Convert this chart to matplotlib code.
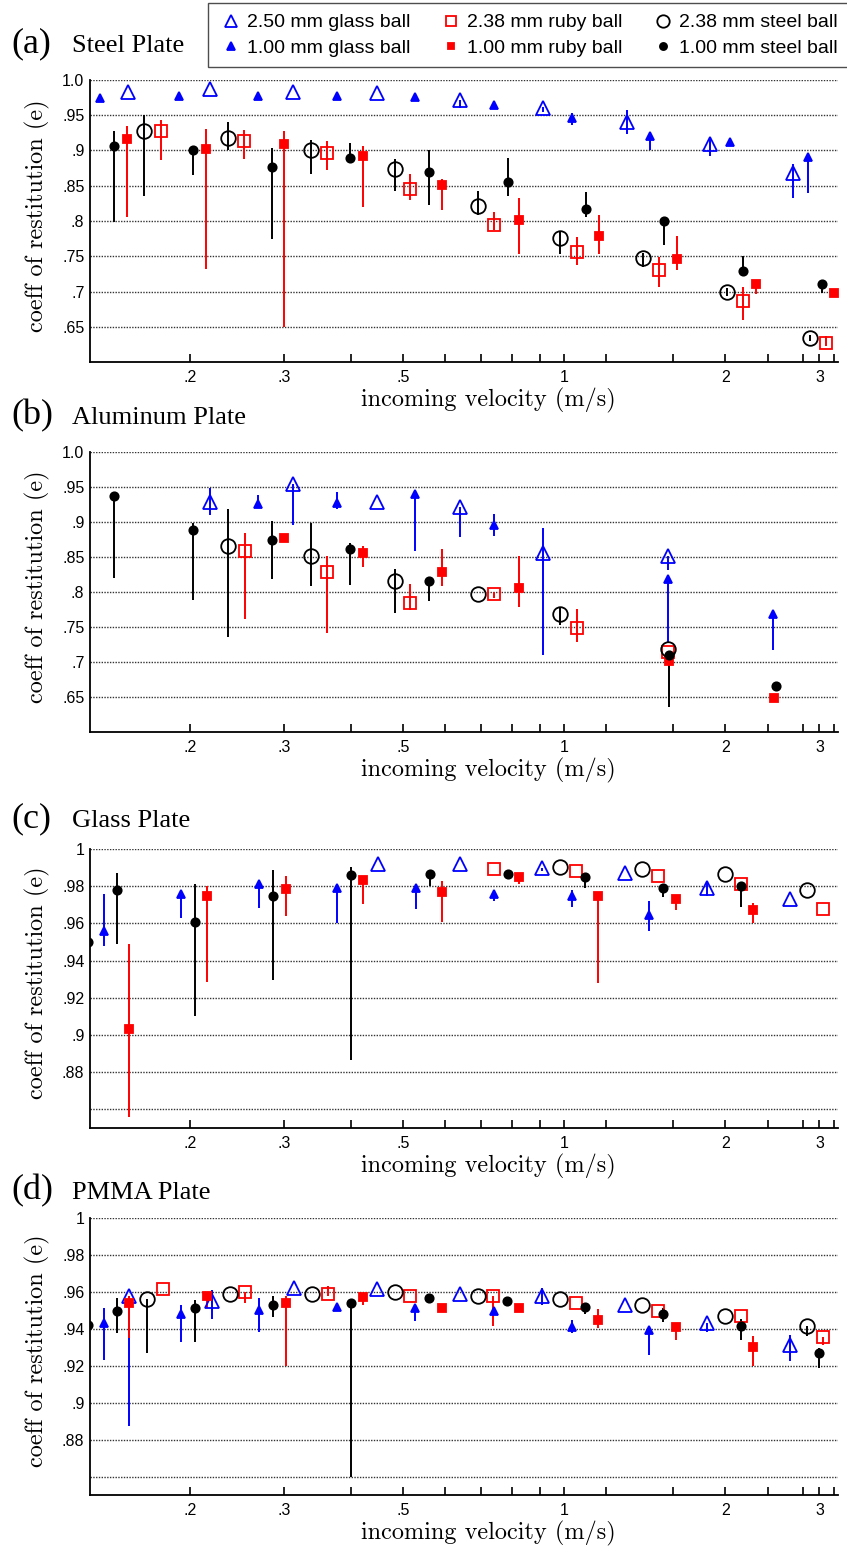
import matplotlib
matplotlib.use("Agg")
import matplotlib.pyplot as plt
from matplotlib.lines import Line2D
from matplotlib.ticker import FixedLocator, FixedFormatter, NullLocator

# each point: (incoming velocity m/s, e, lower end of bar, upper end of bar)

# (a) steel plate
steel_glass250 = [(0.153, 0.983, 0.983, 0.983), (0.218, 0.987, 0.987, 0.987),
                  (0.312, 0.983, 0.983, 0.983), (0.447, 0.981, 0.981, 0.981),
                  (0.64, 0.971, 0.960, 0.971), (0.915, 0.960, 0.955, 0.962),
                  (1.31, 0.941, 0.924, 0.957), (1.87, 0.909, 0.892, 0.916),
                  (2.68, 0.868, 0.832, 0.881)]
steel_glass100 = [(0.136, 0.975, 0.970, 0.975), (0.191, 0.977, 0.977, 0.977),
                  (0.268, 0.977, 0.977, 0.977), (0.376, 0.978, 0.978, 0.978),
                  (0.527, 0.976, 0.976, 0.976), (0.74, 0.964, 0.962, 0.966),
                  (1.036, 0.946, 0.936, 0.953), (1.45, 0.921, 0.900, 0.925),
                  (2.04, 0.912, 0.912, 0.912), (2.855, 0.891, 0.840, 0.891)]
steel_ruby238 = [(0.1765, 0.927, 0.887, 0.943), (0.252, 0.913, 0.888, 0.929),
                 (0.36, 0.897, 0.873, 0.913), (0.515, 0.846, 0.830, 0.866),
                 (0.738, 0.795, 0.787, 0.813), (1.056, 0.756, 0.737, 0.777),
                 (1.507, 0.731, 0.707, 0.749), (2.158, 0.687, 0.660, 0.706),
                 (3.09, 0.627, 0.622, 0.637)]
steel_ruby100 = [(0.1525, 0.917, 0.805, 0.935), (0.214, 0.902, 0.732, 0.930),
                 (0.300, 0.909, 0.649, 0.928), (0.4215, 0.892, 0.820, 0.906),
                 (0.5905, 0.851, 0.816, 0.859), (0.825, 0.801, 0.753, 0.832),
                 (1.163, 0.779, 0.753, 0.809), (1.626, 0.746, 0.731, 0.779),
                 (2.285, 0.711, 0.697, 0.714), (3.2, 0.698, 0.695, 0.700)]
steel_steel238 = [(0.164, 0.927, 0.836, 0.951), (0.235, 0.918, 0.900, 0.940),
                  (0.336, 0.900, 0.866, 0.915), (0.482, 0.874, 0.842, 0.888),
                  (0.689, 0.821, 0.809, 0.843), (0.983, 0.776, 0.753, 0.784),
                  (1.407, 0.747, 0.735, 0.755), (2.014, 0.700, 0.693, 0.705),
                  (2.884, 0.634, 0.630, 0.638)]
steel_steel100 = [(0.144, 0.906, 0.799, 0.928), (0.2025, 0.901, 0.865, 0.901),
                  (0.284, 0.877, 0.774, 0.903), (0.3975, 0.889, 0.889, 0.910),
                  (0.559, 0.869, 0.822, 0.900), (0.784, 0.856, 0.835, 0.889),
                  (1.098, 0.817, 0.806, 0.841), (1.54, 0.800, 0.766, 0.800),
                  (2.158, 0.729, 0.729, 0.750), (3.03, 0.710, 0.698, 0.710)]

# (b) aluminum plate
alu_glass250 = [(0.218, 0.929, 0.910, 0.948), (0.312, 0.954, 0.896, 0.954),
                (0.447, 0.929, 0.929, 0.929), (0.64, 0.921, 0.878, 0.921),
                (0.915, 0.856, 0.710, 0.891), (1.566, 0.852, 0.832, 0.852)]
alu_glass100 = [(0.268, 0.925, 0.925, 0.939), (0.376, 0.927, 0.918, 0.943),
                (0.527, 0.940, 0.858, 0.940), (0.74, 0.896, 0.880, 0.912),
                (1.566, 0.818, 0.728, 0.818), (2.46, 0.768, 0.717, 0.768)]
alu_ruby238 = [(0.253, 0.858, 0.761, 0.884), (0.36, 0.828, 0.742, 0.851),
               (0.515, 0.784, 0.774, 0.812), (0.738, 0.797, 0.792, 0.800),
               (1.056, 0.749, 0.728, 0.775), (1.566, 0.714, 0.714, 0.714)]
alu_ruby100 = [(0.300, 0.877, 0.877, 0.877), (0.4215, 0.856, 0.836, 0.866),
               (0.5905, 0.828, 0.808, 0.862), (0.825, 0.805, 0.7785, 0.851),
               (1.57, 0.702, 0.702, 0.702), (2.47, 0.649, 0.649, 0.649)]
alu_steel238 = [(0.235, 0.865, 0.735, 0.918), (0.336, 0.851, 0.808, 0.899),
                (0.482, 0.815, 0.770, 0.833), (0.689, 0.797, 0.797, 0.797),
                (0.983, 0.769, 0.7535, 0.779), (1.566, 0.719, 0.719, 0.719)]
alu_steel100 = [(0.144, 0.937, 0.820, 0.937), (0.2025, 0.888, 0.789, 0.899),
                (0.284, 0.874, 0.819, 0.901), (0.3975, 0.862, 0.810, 0.870),
                (0.559, 0.815, 0.787, 0.815), (1.57, 0.710, 0.635, 0.710),
                (2.49, 0.665, 0.665, 0.665)]

# (c) glass plate
glass_glass250 = [(0.4485, 0.992, 0.992, 0.992), (0.64, 0.992, 0.992, 0.992),
                  (0.911, 0.990, 0.988, 0.990), (1.30, 0.987, 0.987, 0.987),
                  (1.853, 0.979, 0.975, 0.983), (2.645, 0.973, 0.973, 0.973)]
glass_glass100 = [(0.138, 0.956, 0.948, 0.976), (0.192, 0.976, 0.963, 0.976),
                  (0.2695, 0.981, 0.9685, 0.981), (0.377, 0.979, 0.960, 0.979),
                  (0.528, 0.979, 0.968, 0.979), (0.738, 0.976, 0.972, 0.978),
                  (1.034, 0.975, 0.969, 0.978), (1.444, 0.9645, 0.956, 0.972)]
glass_ruby238 = [(0.738, 0.989, 0.989, 0.989), (1.052, 0.988, 0.988, 0.988),
                 (1.496, 0.9856, 0.9856, 0.9856), (2.14, 0.981, 0.981, 0.981),
                 (3.05, 0.9675, 0.9675, 0.9675)]
glass_ruby100 = [(0.154, 0.903, 0.856, 0.949), (0.2155, 0.975, 0.9285, 0.980),
                 (0.3018, 0.9785, 0.964, 0.9855), (0.4215, 0.9835, 0.9706, 0.9835),
                 (0.5905, 0.977, 0.961, 0.983), (0.825, 0.985, 0.981, 0.985),
                 (1.156, 0.975, 0.928, 0.977), (1.617, 0.973, 0.967, 0.975),
                 (2.259, 0.967, 0.960, 0.971)]
glass_steel238 = [(0.983, 0.9905, 0.9905, 0.9905), (1.401, 0.989, 0.989, 0.989),
                  (2.0, 0.9865, 0.9865, 0.9865), (2.85, 0.978, 0.978, 0.978)]
glass_steel100 = [(0.129, 0.950, 0.950, 0.950), (0.146, 0.978, 0.9487, 0.9873),
                  (0.2043, 0.961, 0.910, 0.981), (0.2854, 0.975, 0.9295, 0.9887),
                  (0.399, 0.986, 0.8868, 0.9905), (0.5616, 0.9865, 0.980, 0.9865),
                  (0.784, 0.9865, 0.9865, 0.9865), (1.095, 0.985, 0.979, 0.985),
                  (1.533, 0.979, 0.974, 0.979), (2.14, 0.980, 0.969, 0.980)]

# (d) PMMA plate
pmma_glass250 = [(0.154, 0.958, 0.8876, 0.958), (0.2197, 0.955, 0.9452, 0.961),
                 (0.313, 0.962, 0.962, 0.962), (0.4479, 0.9615, 0.9615, 0.9615),
                 (0.64, 0.959, 0.959, 0.959), (0.911, 0.958, 0.953, 0.962),
                 (1.30, 0.953, 0.953, 0.953), (1.853, 0.943, 0.938, 0.943),
                 (2.645, 0.931, 0.9227, 0.9368)]
pmma_glass100 = [(0.138, 0.943, 0.9229, 0.9512), (0.192, 0.948, 0.9331, 0.953),
                 (0.2695, 0.950, 0.938, 0.9566), (0.377, 0.952, 0.952, 0.952),
                 (0.527, 0.9515, 0.944, 0.9515), (0.738, 0.9494, 0.9494, 0.9494),
                 (1.034, 0.9409, 0.9375, 0.945), (1.444, 0.9395, 0.926, 0.9395)]
pmma_ruby238 = [(0.178, 0.9615, 0.9615, 0.9615), (0.2533, 0.960, 0.954, 0.960),
                (0.3616, 0.959, 0.9575, 0.963), (0.515, 0.958, 0.958, 0.958),
                (0.736, 0.958, 0.9416, 0.958), (1.052, 0.954, 0.954, 0.954),
                (1.496, 0.9494, 0.9494, 0.9494), (2.14, 0.9467, 0.9467, 0.9467),
                (3.05, 0.9355, 0.931, 0.9355)]
pmma_ruby100 = [(0.154, 0.954, 0.935, 0.958), (0.2155, 0.958, 0.951, 0.960),
                (0.3018, 0.954, 0.920, 0.958), (0.4215, 0.957, 0.953, 0.957),
                (0.5905, 0.951, 0.951, 0.951), (0.825, 0.9515, 0.9515, 0.9515),
                (1.156, 0.945, 0.9407, 0.9506), (1.617, 0.941, 0.934, 0.943),
                (2.259, 0.930, 0.9197, 0.936)]
pmma_steel238 = [(0.166, 0.956, 0.927, 0.956), (0.237, 0.959, 0.959, 0.959),
                 (0.3376, 0.959, 0.959, 0.959), (0.482, 0.960, 0.960, 0.960),
                 (0.689, 0.958, 0.958, 0.958), (0.983, 0.956, 0.956, 0.956),
                 (1.401, 0.953, 0.953, 0.953), (2.0, 0.947, 0.947, 0.947),
                 (2.85, 0.9413, 0.936, 0.9413)]
pmma_steel100 = [(0.129, 0.942, 0.942, 0.942), (0.146, 0.9496, 0.9377, 0.9566),
                 (0.2043, 0.9515, 0.9331, 0.9556), (0.2854, 0.953, 0.9465, 0.9577),
                 (0.399, 0.954, 0.860, 0.954), (0.559, 0.9566, 0.954, 0.9566),
                 (0.781, 0.9548, 0.9548, 0.9548), (1.095, 0.952, 0.948, 0.954),
                 (1.533, 0.948, 0.9435, 0.951), (2.14, 0.9416, 0.9337, 0.9452),
                 (2.996, 0.927, 0.9186, 0.9296)]

ball_labels = ["2.50 mm glass ball", "1.00 mm glass ball",
               "2.38 mm ruby ball", "1.00 mm ruby ball",
               "2.38 mm steel ball", "1.00 mm steel ball"]
panel_tags = ["(a)", "(b)", "(c)", "(d)"]
panel_names = ["Steel Plate", "Aluminum Plate", "Glass Plate", "PMMA Plate"]

x_ticks = [0.2, 0.3, 0.4, 0.5, 0.6, 0.7, 0.8, 0.9, 1, 1.2, 1.6, 2, 2.4, 2.8, 3, 3.2]
x_ticklabels = [".2", ".3", "", ".5", "", "", "", "", "1", "", "", "2", "", "", "3", ""]
y_ticks_coarse = [0.65, 0.7, 0.75, 0.8, 0.85, 0.9, 0.95, 1.0]
y_labels_coarse = [".65", ".7", ".75", ".8", ".85", ".9", ".95", "1.0"]
y_ticks_fine = [0.86, 0.88, 0.9, 0.92, 0.94, 0.96, 0.98, 1.0]
y_labels_fine = ["", ".88", ".9", ".92", ".94", ".96", ".98", "1"]

# marker style per ball type: (marker, colour, filled, size)
styles = [("^", "blue", False, 10.5), ("^", "blue", True, 6),
          ("s", "red", False, 8.5), ("s", "red", True, 5.5),
          ("o", "black", False, 10.5), ("o", "black", True, 6)]

panels = [
    [steel_glass250, steel_glass100, steel_ruby238, steel_ruby100, steel_steel238, steel_steel100],
    [alu_glass250, alu_glass100, alu_ruby238, alu_ruby100, alu_steel238, alu_steel100],
    [glass_glass250, glass_glass100, glass_ruby238, glass_ruby100, glass_steel238, glass_steel100],
    [pmma_glass250, pmma_glass100, pmma_ruby238, pmma_ruby100, pmma_steel238, pmma_steel100],
]

W, H = 847, 1550
# axes boxes in pixels: top, bottom
boxes = [(80, 362), (452, 732), (849, 1128), (1218, 1495)]
title_base = [52, 424, 827, 1199]
ax_left, ax_right = 90, 838

tick_font = {"family": "Liberation Sans", "size": 11.5}
label_font = {"family": "cmr10", "size": 17.5}

fig = plt.figure(figsize=(W / 100, H / 100), dpi=100)

for i, series in enumerate(panels):
    top, bot = boxes[i]
    ax = fig.add_axes([ax_left / W, 1 - bot / H, (ax_right - ax_left) / W, (bot - top) / H])
    for data, (mk, col, filled, ms) in zip(series, styles):
        v = [p[0] for p in data]
        e = [p[1] for p in data]
        err = [[p[1] - p[2] for p in data], [p[3] - p[1] for p in data]]
        ax.errorbar(v, e, yerr=err, fmt=mk, color=col, ecolor=col,
                    mfc=col if filled else "none", mec=col, ms=ms,
                    mew=1.3, elinewidth=1.4, capsize=0, zorder=3)

    ax.set_xscale("log")
    ax.set_xlim(0.13, 3.25)
    ax.xaxis.set_major_locator(FixedLocator(x_ticks))
    ax.xaxis.set_major_formatter(FixedFormatter(x_ticklabels))
    ax.xaxis.set_minor_locator(NullLocator())

    if i < 2:
        ax.set_ylim(0.6, 1.0)
        ax.set_yticks(y_ticks_coarse)
        ax.set_yticklabels(y_labels_coarse)
    else:
        ax.set_ylim(0.85, 1.0)
        ax.set_yticks(y_ticks_fine)
        ax.set_yticklabels(y_labels_fine)

    for lab in ax.get_xticklabels() + ax.get_yticklabels():
        lab.set_fontfamily(tick_font["family"])
        lab.set_fontsize(tick_font["size"])

    ax.tick_params(axis="x", direction="in", length=6, width=1.2, pad=6)
    ax.tick_params(axis="y", length=0, pad=4)
    ax.yaxis.grid(True, linestyle=(0, (1, 1)), color="0.2", lw=1.0)
    ax.set_axisbelow(True)
    ax.spines["top"].set_visible(False)
    ax.spines["right"].set_visible(False)
    ax.spines["left"].set_linewidth(1.3)
    ax.spines["bottom"].set_linewidth(1.3)

    ax.set_xlabel("incoming velocity (m/s)", fontdict=label_font)
    ax.xaxis.label.set_va("center")
    ax.xaxis.set_label_coords(0.532, -38 / (bot - top))
    ax.set_ylabel("coeff of restitution (e)", fontdict=label_font)
    ax.yaxis.label.set_va("center")
    ax.yaxis.set_label_coords((37 - ax_left) / (ax_right - ax_left), 0.52)

    yb = 1 - title_base[i] / H
    fig.text(11 / W, yb, panel_tags[i], family="Liberation Serif", size=26, va="baseline")
    fig.text(72 / W, yb, panel_names[i], family="Liberation Serif", size=19, va="baseline")

handles = []
for mk, col, filled, ms in styles:
    handles.append(Line2D([], [], ls="none", marker=mk, color=col,
                          mfc=col if filled else "none", mec=col,
                          ms=ms * 0.85, mew=1.3))
fig.legend(handles, ball_labels, ncol=3, loc="upper left",
           bbox_to_anchor=(208 / W, 1 - 3 / H), bbox_transform=fig.transFigure,
           prop={"family": "Liberation Sans", "size": 14},
           fancybox=False, edgecolor="0.3", framealpha=1, borderaxespad=0,
           borderpad=0.55, handlelength=1.27, handletextpad=0.19,
           columnspacing=1.45, labelspacing=0.4)

fig.savefig("out.png", dpi=100)
